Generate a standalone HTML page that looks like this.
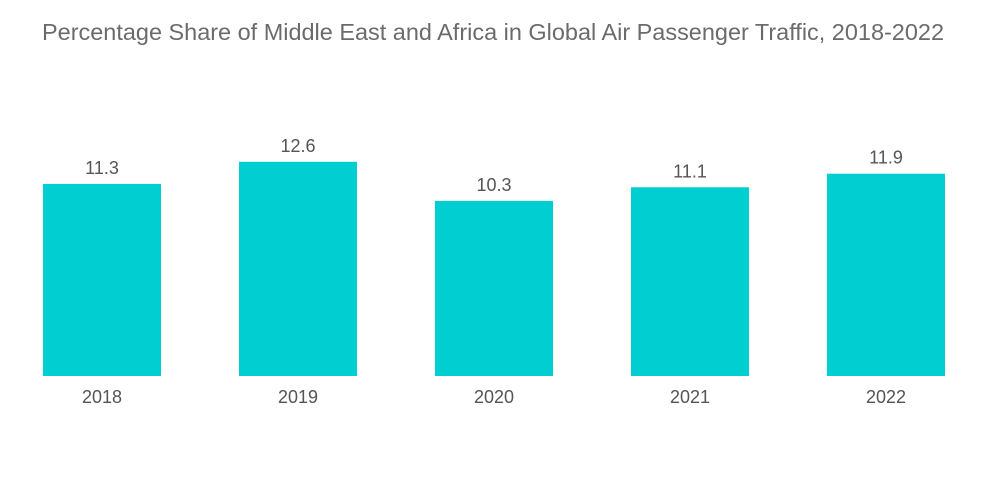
<!DOCTYPE html>
<html><head><meta charset="utf-8"><style>
html,body{margin:0;padding:0;background:#fff;width:1000px;height:504px;overflow:hidden}
text{font-family:"Liberation Sans",sans-serif}
</style></head><body>
<svg id="chart" width="1000" height="504" viewBox="0 0 1000 504">
<text x="493" y="40" text-anchor="middle" font-size="23" textLength="902" lengthAdjust="spacingAndGlyphs" fill="#6b6b6b">Percentage Share of Middle East and Africa in Global Air Passenger Traffic, 2018-2022</text>
<g id="bars"></g>
</svg>
<script>
const categories = ["2018","2019","2020","2021","2022"];
const values = [11.3, 12.6, 10.3, 11.1, 11.9];
const valueLabels = ["11.3","12.6","10.3","11.1","11.9"];

const baseline = 376, pxPerUnit = 17.0;
const firstCenter = 102, step = 196, barW = 118;
const x = i => firstCenter + i * step;
const y = v => baseline - v * pxPerUnit;
const ns = "http://www.w3.org/2000/svg";
const g = document.getElementById("bars");
categories.forEach((c, i) => {
  const r = document.createElementNS(ns, "rect");
  
  
  r.setAttribute("x", x(i) - barW / 2);
  r.setAttribute("y", y(values[i]));
  r.setAttribute("width", barW);
  r.setAttribute("height", baseline - y(values[i]));
  r.setAttribute("fill", "#00ced1");
  g.appendChild(r);
  const t = document.createElementNS(ns, "text");
  
  
  t.setAttribute("x", x(i));
  t.setAttribute("y", y(values[i]) - 10);
  t.setAttribute("text-anchor", "middle");
  t.setAttribute("font-size", "18");
  t.setAttribute("fill", "#555");
  t.textContent = valueLabels[i];
  g.appendChild(t);
  const a = document.createElementNS(ns, "text");
  
  
  a.setAttribute("x", x(i));
  a.setAttribute("y", baseline + 27);
  a.setAttribute("text-anchor", "middle");
  a.setAttribute("font-size", "18");
  a.setAttribute("fill", "#555");
  a.textContent = c;
  g.appendChild(a);
});
</script>
</body></html>
